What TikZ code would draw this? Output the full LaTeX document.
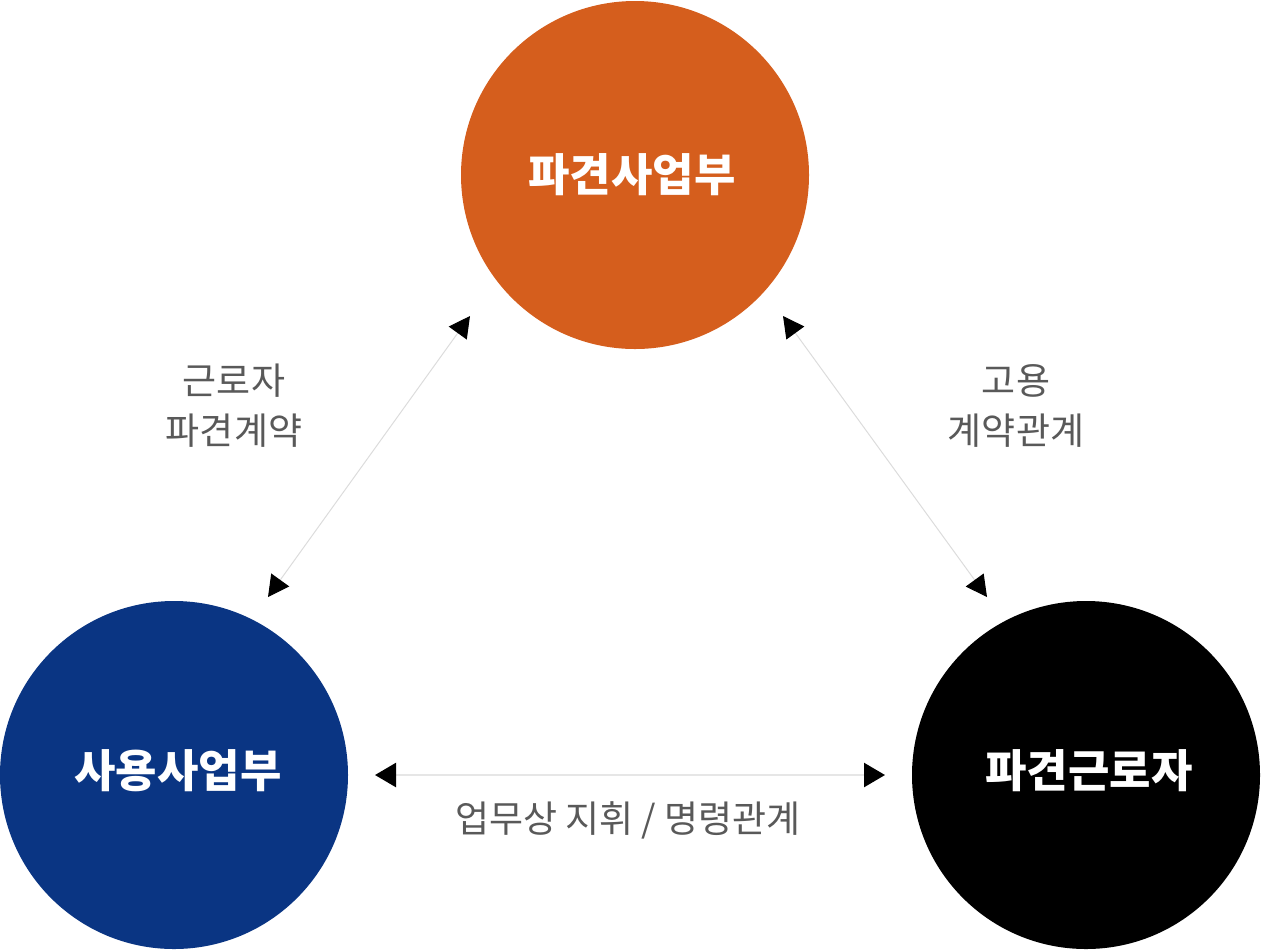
\documentclass[tikz,border=0pt]{standalone}
\usepackage{fontspec}
\usepackage{xcolor}
\usetikzlibrary{arrows.meta}
\newfontfamily\krfont{Noto Sans CJK KR}
\definecolor{dispatchorange}{HTML}{D55E1D}
\definecolor{usernavy}{HTML}{0A3583}
\definecolor{labelgray}{HTML}{595959}
\definecolor{linegray}{HTML}{DCDCDC}
\definecolor{hlinegray}{HTML}{E6E6E6}
\tikzset{
  orgcircle/.style={circle,minimum size=174pt,inner sep=0pt},
  orgtext/.style={text=white,inner sep=0pt,
                  font=\krfont\bfseries\fontsize{22.5pt}{26pt}\selectfont},
  rellabel/.style={align=center,text=labelgray,inner sep=0pt,
                   font=\krfont\fontsize{18.5pt}{25pt}\selectfont},
  relarr/.style={{Triangle[length=10.5pt,width=11pt,color=black]}-{Triangle[length=10.5pt,width=11pt,color=black]},
                 line width=0.5pt,draw=linegray},
  hrelarr/.style={{Triangle[length=10.5pt,width=12pt,color=black]}-{Triangle[length=10.5pt,width=12pt,color=black]},
                  line width=1.2pt,draw=hlinegray}
}
\begin{document}
\begin{tikzpicture}[x=0.5pt,y=-0.5pt]
    \path[use as bounding box] (0,0) rectangle (1261,949);
    \node[orgcircle,fill=dispatchorange] (agency) at (635,175) {};
    \node[orgcircle,fill=usernavy] (user) at (174,775) {};
    \node[orgcircle,fill=black] (worker) at (1086,775) {};
    \node[orgtext] (agencytext) at (632,175) {파견사업부};
    \node[orgtext] (usertext) at (178,771) {사용사업부};
    \node[orgtext] (workertext) at (1089,771) {파견근로자};

    \coordinate (agencyL) at (470,316);
    \coordinate (userT) at (268,597);
    \coordinate (agencyR) at (783,316);
    \coordinate (workerT) at (987,597);
    \coordinate (userR) at (375,775);
    \coordinate (workerL) at (885,775);
    \draw[relarr] (userT) -- (agencyL);
    \draw[relarr] (agencyR) -- (workerT);
    \draw[hrelarr] (userR) -- (workerL);

    \node[rellabel] (contract) at (234,406) {근로자\\파견계약};
    \node[rellabel] (employ) at (1016,406) {고용\\계약관계};
    \node[rellabel] (command) at (628,820) {업무상 지휘 / 명령관계};
  \end{tikzpicture}
\end{document}
